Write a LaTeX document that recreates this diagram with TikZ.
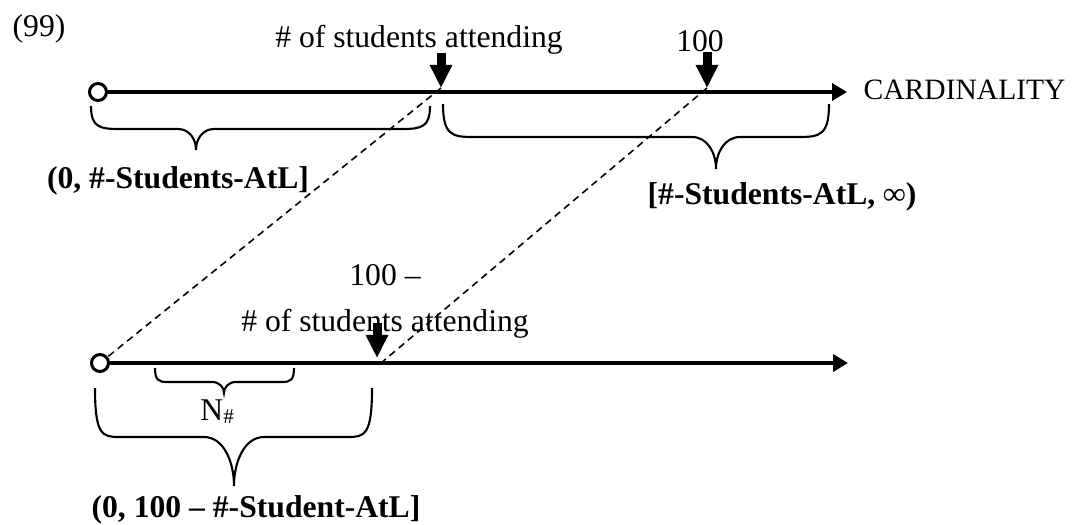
\documentclass[tikz,border=0pt]{standalone}
\usepackage{fontspec}
\setmainfont{Liberation Serif}
\usetikzlibrary{arrows.meta}

\tikzset{
  numline/.style={line width=0.04cm, -{Triangle[length=0.15cm,width=0.17cm]}},
  origin/.style={circle, draw, line width=0.03cm, inner sep=0pt, minimum size=0.17cm, fill=white},
  pointer/.style={line width=0.09cm, -{Triangle[length=0.23cm,width=0.21cm]}},
  guide/.style={dash pattern=on 0.07cm off 0.05cm, line width=0.45pt},
  bracepath/.style={line width=0.6pt},
  txt/.style={inner sep=0pt, font=\fontsize{9}{10.8}\selectfont},
  spanlabel/.style={inner sep=0pt, font=\fontsize{9}{10.8}\selectfont\bfseries}
}

% x1, x2, y of the ends, y of the bar, x and y of the tip, end bend, tip bend
\newcommand{\rangebrace}[8]{%
  \draw[bracepath] (#1,#3) .. controls (#1,{#4-2}) and ({#1+#7*0.3},#4) .. ({#1+#7},#4) -- ({#5-#8},#4)
    .. controls ({#5-#8*0.35},#4) and (#5,{(#4+#6)/2}) .. (#5,#6)
    .. controls (#5,{(#4+#6)/2}) and ({#5+#8*0.35},#4) .. ({#5+#8},#4)
    -- ({#2-#7},#4) .. controls ({#2-#7*0.3},#4) and (#2,{#4-2}) .. (#2,#3);}

\begin{document}
\begin{tikzpicture}[x=0.01cm, y=-0.01cm]
\useasboundingbox (0,0) rectangle (1076,524);

\node[txt, anchor=base west] (ex) at (12,36) {(99)};

% upper line
\node[origin] (o1) at (98,92) {};
\coordinate (e1) at (847,92);
\coordinate (p1top) at (441,53);
\coordinate (p1) at (441,88);
\coordinate (p2top) at (707,52);
\coordinate (p2) at (707,88);
\node[txt, anchor=base] (attend) at (419,47) {\# of students attending};
\node[txt, anchor=base] (hundred) at (700,51) {100};
\node[inner sep=0pt, font=\fontsize{8.4}{10}\selectfont, anchor=base west] (card) at (863,99) {CARDINALITY};

% lower line
\node[origin] (o2) at (100,363) {};
\coordinate (e2) at (848,363);
\coordinate (q1top) at (377,323);
\coordinate (q1) at (377,358);
\coordinate (q1foot) at (381,363);
\node[txt, align=center, anchor=north, font=\fontsize{9}{13.1}\selectfont] (diff) at (385,264) {100 –\\\# of students attending};

% dashed guides
\draw[guide] (p1) -- (o2);
\draw[guide] (p2) -- (q1foot);

\draw[numline] (o1.east) -- (e1);
\draw[numline] (o2.east) -- (e2);
\draw[pointer] (p1top) -- (p1);
\draw[pointer] (p2top) -- (p2);
\draw[pointer] (q1top) -- (q1);

% braces
\rangebrace{91}{430}{106}{129}{196}{150}{28}{18}
\rangebrace{443}{829}{104}{137}{716}{169}{30}{24}
\rangebrace{155}{294}{368}{382}{224}{393}{12}{12}
\rangebrace{95}{372}{388}{437}{234}{486}{24}{30}

\node[spanlabel, anchor=base] (low) at (178,188) {(0, \#-Students-AtL]};
\node[spanlabel, anchor=base] (high) at (782,204) {[\#-Students-AtL, ∞)};
\node[txt, anchor=base] (nset) at (218,420) {N\textsubscript{\#}};
\node[spanlabel, anchor=base] (rest) at (256,517) {(0, 100 – \#-Student-AtL]};
\end{tikzpicture}
\end{document}
